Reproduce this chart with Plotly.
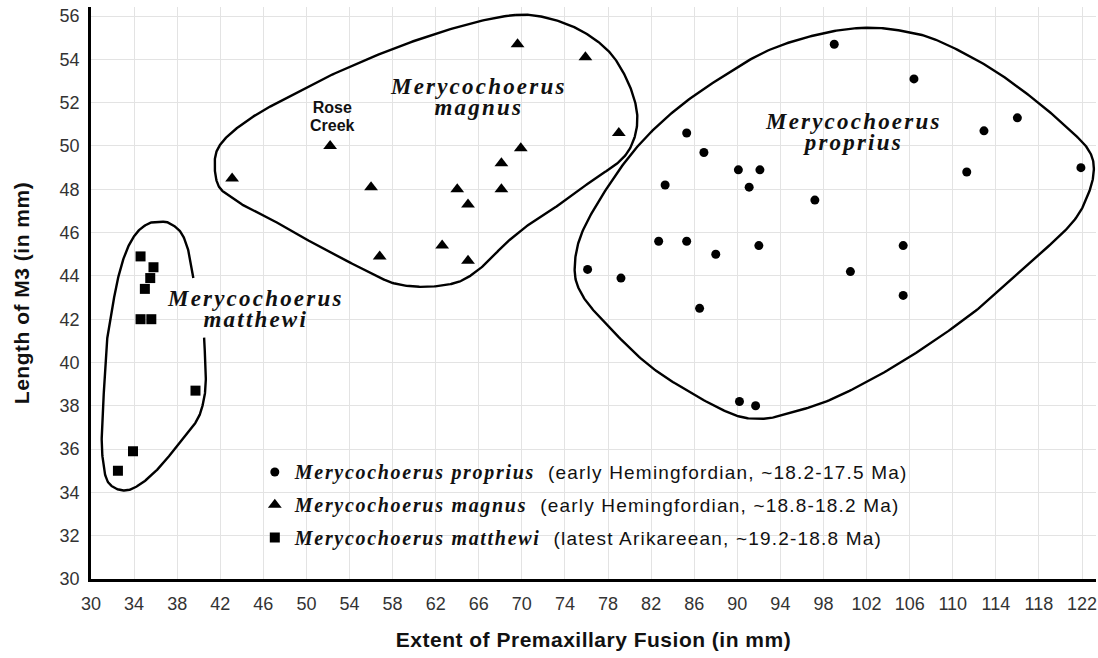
import numpy as np
import plotly.graph_objects as go

# ---- measurements: extent of premaxillary fusion (mm) vs length of M3 (mm) ----
proprius_fusion = [99.0, 106.4, 116.0, 112.9, 85.3, 86.9, 90.1, 92.1, 91.1, 83.3, 97.2, 111.3, 121.9,
                   82.7, 85.3, 88.0, 92.0, 105.4, 76.1, 79.2, 100.5, 105.4, 86.5, 90.2, 91.7]
proprius_m3 = [54.7, 53.1, 51.3, 50.7, 50.6, 49.7, 48.9, 48.9, 48.1, 48.2, 47.5, 48.8, 49.0,
               45.6, 45.6, 45.0, 45.4, 45.4, 44.3, 43.9, 44.2, 43.1, 42.5, 38.2, 38.0]

magnus_fusion = [43.1, 52.2, 56.0, 56.8, 62.6, 64.0, 65.0, 65.0, 68.1, 68.1, 69.9, 69.6, 75.9, 79.0]
magnus_m3 = [48.5, 50.0, 48.1, 44.9, 45.4, 48.0, 47.3, 44.7, 49.2, 48.0, 49.9, 54.7, 54.1, 50.6]
rose_creek_index = 1

matthewi_fusion = [34.6, 35.8, 35.5, 35.0, 34.6, 35.6, 39.7, 33.9, 32.5]
matthewi_m3 = [44.9, 44.4, 43.9, 43.4, 42.0, 42.0, 38.7, 35.9, 35.0]

# ---- hand-drawn group outlines (control points, smoothed below) ----
proprius_outline_x = [102.0, 105.5, 108.7, 113.5, 117.7, 120.6, 122.5, 123.1, 122.6, 121.0, 116.7, 111.9,
                      105.5, 99.2, 94.4, 92.1, 89.6, 85.7, 81.6, 77.4, 75.5, 74.9, 75.5, 77.7, 80.6,
                      84.1, 88.0, 92.8, 97.9]
proprius_outline_y = [55.46, 55.3, 54.85, 53.6, 52.1, 50.85, 49.9, 49.0, 47.8, 46.4, 44.4, 42.3,
                      40.1, 38.4, 37.6, 37.4, 37.6, 38.6, 39.95, 42.0, 43.2, 44.3, 45.9, 47.9, 49.9,
                      51.6, 53.0, 54.4, 55.2]

magnus_outline_x = [69.4, 72.5, 75.6, 78.2, 79.9, 80.7, 80.4, 79.2, 76.5, 73.8, 71.0, 68.5, 66.5, 64.5,
                    62.5, 60.3, 58.1, 56.3, 54.1, 51.0, 47.9, 44.7, 43.0, 41.9, 41.5, 41.7, 43.0,
                    45.5, 48.5, 52.4, 58.6, 64.8]
magnus_outline_y = [56.05, 55.9, 55.3, 54.3, 52.9, 51.5, 50.3, 49.35, 48.4, 47.4, 46.5, 45.5, 44.5, 43.8,
                    43.55, 43.5, 43.66, 44.05, 44.6, 45.4, 46.3, 47.1, 47.65, 48.1, 48.9, 49.8, 50.6,
                    51.5, 52.3, 53.3, 54.6, 55.6]

matthewi_outline_x = [39.5, 39.1, 38.4, 37.3, 36.5, 35.4, 34.2, 33.2, 32.4, 31.8, 31.55, 31.24, 31.0,
                      31.1, 31.55, 32.8, 34.2, 36.05, 38.2, 39.8, 40.4, 40.65, 40.6, 40.5]
matthewi_outline_y = [43.9, 45.05, 45.97, 46.43, 46.5, 46.43, 45.97, 45.05, 43.66, 41.97, 41.34, 39.03,
                      36.7, 35.5, 34.5, 34.1, 34.26, 35.0, 36.26, 37.3, 38.1, 39.0, 40.1, 41.15]

legend_names = {
    "proprius": ("Merycochoerus proprius", "(early Hemingfordian, ~18.2-17.5 Ma)"),
    "magnus": ("Merycochoerus magnus", "(early Hemingfordian, ~18.8-18.2 Ma)"),
    "matthewi": ("Merycochoerus matthewi", "(latest Arikareean, ~19.2-18.8 Ma)"),
}

SERIF = "Liberation Serif"
SANS = "Liberation Sans"


def smooth_curve(xs, ys, closed, steps=24):
    """Uniform Catmull-Rom spline through the control points."""
    p = np.column_stack([xs, ys]).astype(float)
    if closed:
        pts = np.vstack([p[-1], p, p[0], p[1]])
    else:
        pts = np.vstack([p[0], p, p[-1]])
    t = np.linspace(0, 1, steps, endpoint=False)[:, None]
    out = []
    for i in range(1, len(pts) - 2):
        p0, p1, p2, p3 = pts[i - 1], pts[i], pts[i + 1], pts[i + 2]
        seg = 0.5 * (2 * p1 + (-p0 + p2) * t + (2 * p0 - 5 * p1 + 4 * p2 - p3) * t ** 2
                     + (-p0 + 3 * p1 - 3 * p2 + p3) * t ** 3)
        out.append(seg)
    out.append(pts[-2][None, :])
    c = np.vstack(out)
    return c[:, 0], c[:, 1]


def legend_label(key):
    species, period = legend_names[key]
    return (f'<span style="font-family:{SERIF};font-weight:bold;font-style:italic;'
            f'font-size:20px;letter-spacing:1.7px">{species}</span>'
            f'<span style="letter-spacing:1.2px">  {period}</span>')


fig = go.Figure()

for ox, oy, closed in [(proprius_outline_x, proprius_outline_y, True),
                       (magnus_outline_x, magnus_outline_y, True),
                       (matthewi_outline_x, matthewi_outline_y, False)]:
    cx, cy = smooth_curve(ox, oy, closed)
    fig.add_trace(go.Scatter(x=cx, y=cy, mode="lines", line=dict(color="black", width=2.4),
                             hoverinfo="skip", showlegend=False))

fig.add_trace(go.Scatter(x=proprius_fusion, y=proprius_m3, mode="markers", name=legend_label("proprius"),
                         legendgroup="a", marker=dict(symbol="circle", size=9, color="black")))
fig.add_trace(go.Scatter(x=magnus_fusion, y=magnus_m3, mode="markers", name=legend_label("magnus"),
                         legendgroup="b", marker=dict(symbol="triangle-up", size=12, color="black")))
fig.add_trace(go.Scatter(x=matthewi_fusion, y=matthewi_m3, mode="markers", name=legend_label("matthewi"),
                         legendgroup="c", marker=dict(symbol="square", size=10, color="black")))

# Two-line species names: small base font keeps the line pitch tight,
# while the spans carry the displayed size.
species_font = dict(family=SERIF, size=16, color="#111", weight="bold", style="italic")


def species_label(x, y, first, second):
    span = '<span style="font-size:23px;letter-spacing:2.2px">{}</span>'
    fig.add_annotation(x=x, y=y, xref="x", yref="y", showarrow=False, xanchor="center", yanchor="middle",
                       text=span.format(first) + "<br>" + span.format(second), font=species_font)


species_label(66.0, 52.25, "Merycochoerus", "magnus")
species_label(100.8, 50.63, "Merycochoerus", "proprius")
species_label(45.3, 42.45, "Merycochoerus", "matthewi")

rose_font = dict(family=SANS, size=14, color="#111", weight="bold")
fig.add_annotation(x=magnus_fusion[rose_creek_index], y=magnus_m3[rose_creek_index], showarrow=False,
                   text='<span style="font-size:16px">Rose</span><br><span style="font-size:16px">Creek</span>',
                   font=rose_font, yanchor="middle", yshift=29, xshift=2)

axis_common = dict(showgrid=True, gridcolor="#e3e3e3", gridwidth=1, zeroline=False,
                   showline=True, linecolor="black", linewidth=2.5, ticks="",
                   tickfont=dict(family=SANS, size=18, color="#333"))
title_font = dict(family=SANS, size=21, color="#111", weight="bold")

fig.update_xaxes(range=[30, 123.3], tick0=30, dtick=4, ticklabelstandoff=7,
                 title=dict(text='<span style="letter-spacing:0.5px">Extent of Premaxillary Fusion (in mm)</span>',
                            standoff=19, font=title_font),
                 **axis_common)
fig.update_yaxes(range=[30, 56.42], tick0=30, dtick=2, ticklabelstandoff=5,
                 title=dict(text='<span style="letter-spacing:0.5px">Length of M3 (in mm)</span>',
                            standoff=25, font=title_font),
                 **axis_common)

fig.update_layout(
    width=1098, height=658,
    margin=dict(l=91, r=2, t=7, b=79),
    plot_bgcolor="white", paper_bgcolor="white",
    font=dict(family=SANS, color="#111"),
    showlegend=True,
    legend=dict(x=0.163, y=0.22, xanchor="left", yanchor="top", bgcolor="rgba(0,0,0,0)",
                borderwidth=0, tracegroupgap=5, itemsizing="trace",
                font=dict(family=SANS, size=19, color="#111")),
)

fig.write_html("out.html")
